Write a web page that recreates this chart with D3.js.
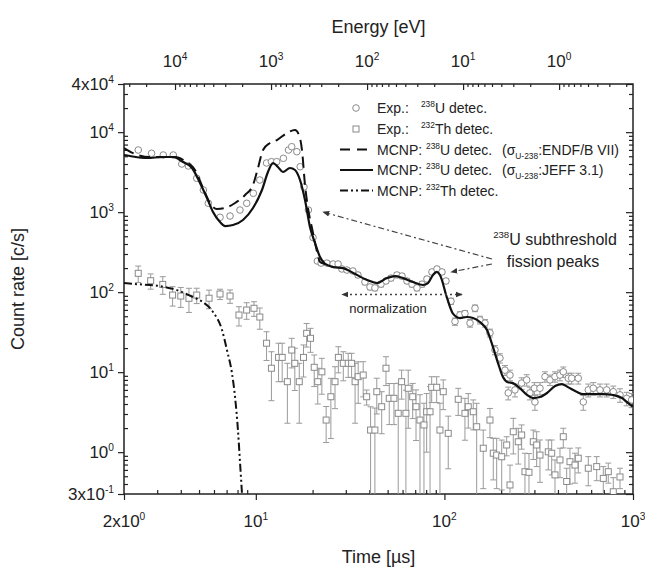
<!DOCTYPE html>
<html>
<head>
<meta charset="utf-8">
<script src="https://cdn.jsdelivr.net/npm/d3@7"></script>
<style>
  body { margin: 0; background: #fff; }
  svg { font-family: "Liberation Sans", Arial, sans-serif; }
</style>
</head>
<body>
<div id="chart"></div>
<script>
// ---- data ----
// Exp.: 238U detector (circles)
var uTime = [2.38,2.80,3.23,3.65,4.05,4.39,4.86,5.27,5.60,6.46,7.30,8.24,8.95,9.70,10.5,11.4,12.1,12.9,14.0,14.9,15.5,16.5,17.2,18.0,19.0,20.1,21.2,
  22.2,23.8,25.7,27.3,28.6,30.4,32.7,34.8,37.9,40.3,42.8,46.1,49.0,52.1,56.0,59.6,63.3,67.3,71.5,76.1,80.8,85.9,91.3,97.1,101.9,108.3,
  113.8,120.9,128.5,136.7,145.3,154.4,164.1,174.4,185.4,197.0,209.5,222.7,236.7,256.8,273.1,300,321.2,341.4,362.8,385.8,410.0,426.9,453.7,473.0,512.6,579.3,615.6,668.3,725.2,786.1,853.1,925.6,983.7,
  218,284,302,545];
var uRate = [5984,5443,5182,5182,4000,3776,2651,1892,1291,863,895,1064,1291,1722,2523,4118,4276,4276,4710,5984,6582,5700,3700,2063,1064,482,245,
  231,231,225,225,195,189,184,164,134,116,113,126,138,150,164,159,138,126,113,126,146,179,195,179,138,77,
  43,52,54,41,63,45,41,31,19,15,10.6,9.2,6.0,7.3,8.0,6.3,6.3,8.8,8.0,8.8,9.2,10.1,8.4,8.4,8.4,6.0,6.3,6.0,6.0,5.7,5.2,4.7,4.5,
  5.5,5.5,4.24,4.24];
var uErr = [120,110,100,100,80,75,55,40,30,20,20,25,30,35,50,80,85,85,95,120,130,115,75,45,25,15,10,
  14,14,14,14,12,12,12,11,10,9,9,10,10,11,12,12,10,10,9,10,11,13,14,13,10,7,
  4.5,5,5,4.5,6,5,4.5,3.5,2.5,2,1.5,1.4,1.1,1.2,1.3,1.1,1.1,1.3,1.2,1.3,1.4,1.5,1.3,1.3,1.3,1.1,1.1,1.1,1.1,1.0,1.0,0.9,0.9,
  1.0,1.0,0.9,0.9];

// Exp.: 232Th detector (squares)
var thTime = [2.38,2.77,3.21,3.62,4.00,4.42,4.86,5.65,6.46,7.30,8.14,8.94,9.78,10.5,11.4,12.1,13.2,13.8,14.7,15.5,
  16.1,17.0,17.9,18.6,19.5,20.4,21.3,22.4,23.6,25.0,26.3,27.4,29.1,30.9,32.2,33.6,34.9,37.1,38.7,40.6,
  42.8,43.8,46.5,49.0,51.0,54.0,56.9,59.3,62.5,64.3,67.9,70.7,74.2,77.9,80.5,83.9,85.6,91.0,94.7,98.6,
  104.8,118.4,128.5,133.8,142.2,148.3,160.7,174.4,181.6,189.3,201.3,213.9,222.7,231.8,246.4,256.8,267.4,280.8,296,308.5,
  321.2,355.4,370.6,385.8,410,426.9,444.9,463.2,492.4,512.6,579.3,642,695.8,739.5,786.1,853.1];
var thRate = [172,139,125,92,89.5,83.8,92,84,94.8,89.5,51.8,59.8,62.9,48.9,23.0,11.2,15.3,15.3,7.6,18.9,
  12.9,7.6,15.3,30.6,26.5,11.5,7.6,10.1,2.52,4.93,7.6,15.3,12.9,12.9,12.9,7.6,8.78,9.21,4.93,1.89,
  1.89,5.70,3.70,11.2,4.71,4.71,3.06,7.6,3.06,6.29,4.93,3.70,2.52,2.19,3.20,3.20,6.47,6.47,1.89,5.70,
  1.72,4.58,3.06,3.70,3.20,2.08,1.12,2.52,0.97,0.92,0.877,1.23,0.389,1.80,1.35,1.64,0.57,0.56,1.35,1.23,
  0.92,1.01,0.97,0.52,0.80,1.56,0.43,0.76,0.69,0.84,0.63,0.66,0.47,0.57,0.32,0.49];
var thErr = [40,30,31,25,25,28,20,22,14,17,14,14,13,14.5,9,6.8,7.7,7.7,5.3,7.6,
  7,5.3,6.6,10,8.8,4.9,3.6,4.8,1.2,3.45,4.1,5.5,5.1,4.3,4.3,5.3,4.7,4.3,1.05,1.8,
  1.67,2.7,2.0,4.4,2.5,2.5,4.2,3.0,2.9,4.3,2.3,2.3,2.7,1.9,2.2,3.4,2.3,2.3,2.2,2.3,
  1.1,1.7,1.65,1.7,1.3,2.0,0.77,1.0,0.52,0.57,0.54,0.33,0.30,0.85,0.64,0.55,0.4,0.4,0.54,0.57,
  0.5,0.41,0.45,0.28,0.32,0.43,0.2,0.36,0.28,0.29,0.25,0.22,0.19,0.16,0.16,0.14];

// MCNP: 238U detector, JEFF 3.1 (solid)
var jeffTime = [2,2.15,2.65,3.22,3.64,4.11,4.59,5.06,5.51,5.93,6.46,6.87,7.57,8.55,9.66,10.78,11.6,12.33,13.1,13.93,
  15.17,16.14,17.15,18.23,19.37,20.6,21.9,23.3,25.7,29.0,32.8,38.9,43.9,49.6,54.7,60.3,68.1,77.0,81.8,87.0,
  91.3,94.7,103.2,111,120.9,131.8,141.8,154.4,168.2,181,192.4,204.4,217,231,251.6,274,295,321,350,386,
  420,452,505,543,614,693,783,874,940,1000];
var jeffRate = [5182,5035,4753,4893,4893,4236,3565,2315,1503,1005,753,671,691,798,1127,1892,3177,4118,3670,3177,
  3565,3365,2523,1419,652,412,275,225,206,200,174,142,130,150,159,150,134,123,130,164,
  179,164,85,54,47.5,48.9,47.5,42.4,33.7,20.6,13.0,8.7,7.5,7.3,6.3,5.2,4.75,4.89,5.49,6.7,
  7.1,6.5,5.65,5.33,5.33,5.33,5.18,4.75,4.12,3.67];

// MCNP: 238U detector, ENDF/B VII (dashed)
var endfTime = [2,2.29,2.75,3.73,4.21,4.76,5.25,5.71,6.22,6.87,7.76,8.77,9.66,10.27,10.92,11.89,12.95,14.63,16.14,16.94,17.57,18.23,18.9,19.85,20.85,21.9,23.3,25.7];
var endfRate = [6339,5333,4893,4893,4361,3365,2004,1302,1095,1127,1302,1639,2185,3565,5984,7318,7980,9760,10641,9215,5984,2185,1127,634,367,238,225,206];

// MCNP: 232Th detector (dash-dot-dot)
var mthTime = [2,2.34,3.10,3.82,4.64,5.25,5.93,6.62,7.03,7.47,7.76,8.04,8.25,8.45];
var mthRate = [130,126,119,106,87,75,56.5,33.7,18.9,9.76,4.89,1.89,0.73,0.3];

// tick labels
var yTicks = [0.3, 1, 10, 100, 1000, 10000, 40000];
var yTickBase = ["3x10", "10", "10", "10", "10", "10", "4x10"];
var yTickExp = ["-1", "0", "1", "2", "3", "4", "4"];
var xTicks = [2, 10, 100, 1000];
var xTickBase = ["2x10", "10", "10", "10"];
var xTickExp = ["0", "1", "2", "3"];
var eTicks = [1e4, 1e3, 1e2, 1e1, 1e0];
var eTickExp = ["4", "3", "2", "1", "0"];

// ---- layout ----
var margin = {top: 84, right: 12, bottom: 75, left: 124},
    width = 645 - margin.left - margin.right,
    height = 569 - margin.top - margin.bottom;

var svg = d3.select("#chart")
  .append("svg")
    .attr("width", 645)
    .attr("height", 569)
  .append("g")
    .attr("transform", "translate(" + margin.left + "," + margin.top + ")");

var x = d3.scaleLog().domain([2, 1000]).range([0, width]);
var y = d3.scaleLog().domain([0.3, 40000]).range([height, 0]);
// top energy axis (decreasing energy with time)
var xE = d3.scaleLog().domain([34000, 0.17]).range([0, width]);

var ink = "#222";

svg.append("defs").append("clipPath").attr("id", "clip")
  .append("rect").attr("width", width).attr("height", height);

// minor tick values
function minors(lo, hi) {
  var out = [];
  for (var d = -2; d <= 5; d++) {
    for (var k = 2; k <= 9; k++) {
      var v = k * Math.pow(10, d);
      if (v > Math.min(lo, hi) * 1.0001 && v < Math.max(lo, hi) * 0.9999) out.push(v);
    }
  }
  return out;
}

// text with super/subscripts
function rich(sel, xp, yp, parts, size, anchor) {
  var t = sel.append("text")
    .attr("x", xp).attr("y", yp)
    .attr("text-anchor", anchor || "start")
    .style("font-size", size + "px")
    .style("fill", ink);
  var shift = 0;
  parts.forEach(function(p) {
    var s = t.append("tspan").text(p[0]);
    var want = 0;
    if (p[1] == "sup") want = -0.42 * size;
    if (p[1] == "sub") want = 0.3 * size;
    if (want != shift) { s.attr("dy", want - shift); shift = want; }
    if (p[1]) s.style("font-size", (size * 0.6) + "px");
    if (p[2]) s.attr("dx", p[2]);
  });
  return t;
}

// ---- axes ----
function styleAxis(g) {
  g.select(".domain").remove();
  g.selectAll("line").attr("stroke", ink).attr("stroke-width", 1.2);
}

// bottom: major outward, minor inward
svg.append("g").attr("transform", "translate(0," + height + ")")
  .call(d3.axisBottom(x).tickValues(xTicks).tickSize(6).tickFormat(""))
  .call(styleAxis);
svg.append("g").attr("transform", "translate(0," + height + ")")
  .call(d3.axisTop(x).tickValues(minors(2, 1000)).tickSize(4).tickFormat(""))
  .call(styleAxis);
// left: major outward, minor inward
svg.append("g")
  .call(d3.axisLeft(y).tickValues(yTicks).tickSize(6).tickFormat(""))
  .call(styleAxis);
svg.append("g")
  .call(d3.axisRight(y).tickValues(minors(0.3, 40000)).tickSize(4).tickFormat(""))
  .call(styleAxis);
// right: all inward
svg.append("g").attr("transform", "translate(" + width + ",0)")
  .call(d3.axisLeft(y).tickValues(yTicks).tickSize(7).tickFormat(""))
  .call(styleAxis);
svg.append("g").attr("transform", "translate(" + width + ",0)")
  .call(d3.axisLeft(y).tickValues(minors(0.3, 40000)).tickSize(4).tickFormat(""))
  .call(styleAxis);
// top energy axis: all inward
svg.append("g")
  .call(d3.axisBottom(xE).tickValues(eTicks).tickSize(6).tickFormat(""))
  .call(styleAxis);
svg.append("g")
  .call(d3.axisBottom(xE).tickValues(minors(0.17, 34000)).tickSize(3).tickFormat(""))
  .call(styleAxis);

// frame
svg.append("rect")
  .attr("width", width).attr("height", height)
  .attr("fill", "none").attr("stroke", ink).attr("stroke-width", 1.5);

// tick labels
yTicks.forEach(function(v, i) {
  rich(svg, -10, y(v) + 6, [[yTickBase[i]], [yTickExp[i], "sup"]], 17, "end");
});
xTicks.forEach(function(v, i) {
  rich(svg, x(v), height + 33, [[xTickBase[i]], [xTickExp[i], "sup"]], 17, "middle");
});
eTicks.forEach(function(v, i) {
  rich(svg, xE(v), -17, [["10"], [eTickExp[i], "sup"]], 17, "middle");
});

// axis titles
svg.append("text")
  .attr("x", width / 2).attr("y", height + 69)
  .attr("text-anchor", "middle").style("font-size", "18px").style("fill", ink)
  .text("Time [\u00b5s]");
svg.append("text")
  .attr("x", width / 2).attr("y", -51)
  .attr("text-anchor", "middle").style("font-size", "18px").style("fill", ink)
  .text("Energy [eV]");
svg.append("text")
  .attr("transform", "rotate(-90)")
  .attr("x", -height / 2).attr("y", -100)
  .attr("text-anchor", "middle").style("font-size", "18px").style("fill", ink)
  .text("Count rate [c/s]");

// ---- data marks ----
var plot = svg.append("g").attr("clip-path", "url(#clip)");
var grey = "#8a8a8a";

var th = thTime.map(function(t, i) { return {t: t, v: thRate[i], e: thErr[i]}; });
var u = uTime.map(function(t, i) { return {t: t, v: uRate[i], e: uErr[i]}; });

function errorBars(data) {
  var g = plot.append("g").attr("stroke", "#9a9a9a").attr("stroke-width", 1);
  data.forEach(function(d) {
    var lo = d.v - d.e > 0.2 ? d.v - d.e : 0.2;
    var yt = y(d.v + d.e), yb = y(lo), xc = x(d.t);
    g.append("line").attr("x1", xc).attr("x2", xc).attr("y1", yt).attr("y2", yb);
    g.append("line").attr("x1", xc - 3).attr("x2", xc + 3).attr("y1", yt).attr("y2", yt);
    g.append("line").attr("x1", xc - 3).attr("x2", xc + 3).attr("y1", yb).attr("y2", yb);
  });
}
errorBars(th);
errorBars(u);

plot.append("g").selectAll("rect")
  .data(th).enter().append("rect")
    .attr("x", function(d) { return x(d.t) - 3; })
    .attr("y", function(d) { return y(d.v) - 3; })
    .attr("width", 6).attr("height", 6)
    .attr("fill", "#fff").attr("stroke", grey).attr("stroke-width", 1);

plot.append("g").selectAll("circle")
  .data(u).enter().append("circle")
    .attr("cx", function(d) { return x(d.t); })
    .attr("cy", function(d) { return y(d.v); })
    .attr("r", 3.3)
    .attr("fill", "#fff").attr("stroke", grey).attr("stroke-width", 1);

var line = d3.line()
  .x(function(d) { return x(d[0]); })
  .y(function(d) { return y(d[1]); })
  .curve(d3.curveMonotoneX);

function pairs(a, b) { return a.map(function(t, i) { return [t, b[i]]; }); }

plot.append("path").datum(pairs(endfTime, endfRate))
  .attr("d", line).attr("fill", "none").attr("stroke", "#111")
  .attr("stroke-width", 2).attr("stroke-dasharray", "11,6");
plot.append("path").datum(pairs(jeffTime, jeffRate))
  .attr("d", line).attr("fill", "none").attr("stroke", "#111")
  .attr("stroke-width", 2.2);
plot.append("path").datum(pairs(mthTime, mthRate))
  .attr("d", line).attr("fill", "none").attr("stroke", "#111")
  .attr("stroke-width", 2).attr("stroke-dasharray", "8,3,2,3,2,3");

// ---- legend (page coords shifted into plot group) ----
var lg = svg.append("g").attr("transform", "translate(" + (-margin.left) + "," + (-margin.top) + ")");
var rows = [108, 129, 149.5, 170, 190.5];
lg.append("circle").attr("cx", 356).attr("cy", rows[0]).attr("r", 3.3)
  .attr("fill", "#fff").attr("stroke", grey);
lg.append("rect").attr("x", 353).attr("y", rows[1] - 3).attr("width", 6).attr("height", 6)
  .attr("fill", "#fff").attr("stroke", grey);
lg.append("line").attr("x1", 340).attr("x2", 372).attr("y1", rows[2]).attr("y2", rows[2])
  .attr("stroke", "#111").attr("stroke-width", 2).attr("stroke-dasharray", "10,7");
lg.append("line").attr("x1", 340).attr("x2", 373).attr("y1", rows[3]).attr("y2", rows[3])
  .attr("stroke", "#111").attr("stroke-width", 2.2);
lg.append("line").attr("x1", 340).attr("x2", 373).attr("y1", rows[4]).attr("y2", rows[4])
  .attr("stroke", "#111").attr("stroke-width", 2).attr("stroke-dasharray", "8,3,2,3,2,3");

var fs = 14;
rich(lg, 377, rows[0] + 5, [["Exp.:"], ["238", "sup", 12], ["U detec."]], fs);
rich(lg, 377, rows[1] + 5, [["Exp.:"], ["232", "sup", 12], ["Th detec."]], fs);
rich(lg, 377, rows[2] + 5, [["MCNP: "], ["238", "sup"], ["U detec."]], fs);
rich(lg, 502, rows[2] + 5, [["(\u03c3"], ["U-238", "sub"], [":ENDF/B VII)"]], fs);
rich(lg, 377, rows[3] + 5, [["MCNP: "], ["238", "sup"], ["U detec."]], fs);
rich(lg, 502, rows[3] + 5, [["(\u03c3"], ["U-238", "sub"], [":JEFF 3.1)"]], fs);
rich(lg, 377, rows[4] + 5, [["MCNP: "], ["232", "sup"], ["Th detec."]], fs);

// ---- annotations ----
var defs = svg.select("defs");
defs.append("marker").attr("id", "ah").attr("viewBox", "0 0 10 10")
  .attr("refX", 9).attr("refY", 5).attr("markerWidth", 7).attr("markerHeight", 7)
  .attr("orient", "auto-start-reverse").attr("markerUnits", "userSpaceOnUse")
  .append("path").attr("d", "M0,1 L10,5 L0,9 Z").attr("fill", "#333");

lg.append("line").attr("x1", 492).attr("y1", 259).attr("x2", 323).attr("y2", 212)
  .attr("stroke", "#444").attr("stroke-width", 1.2).attr("stroke-dasharray", "6,3,2,3")
  .attr("marker-end", "url(#ah)");
lg.append("line").attr("x1", 492).attr("y1", 264).attr("x2", 451).attr("y2", 272)
  .attr("stroke", "#444").attr("stroke-width", 1.2).attr("stroke-dasharray", "6,3,2,3")
  .attr("marker-end", "url(#ah)");
lg.append("line").attr("x1", 462).attr("y1", 294.5).attr("x2", 342).attr("y2", 294.5)
  .attr("stroke", "#444").attr("stroke-width", 1.4).attr("stroke-dasharray", "2,3")
  .attr("marker-start", "url(#ah)").attr("marker-end", "url(#ah)");

rich(lg, 555, 245, [["238", "sup"], ["U subthreshold"]], 16, "middle");
lg.append("text").attr("x", 553).attr("y", 267).attr("text-anchor", "middle")
  .style("font-size", "16px").style("fill", ink).text("fission peaks");
lg.append("text").attr("x", 388).attr("y", 313).attr("text-anchor", "middle")
  .style("font-size", "13px").style("fill", ink).text("normalization");
</script>
</body>
</html>
